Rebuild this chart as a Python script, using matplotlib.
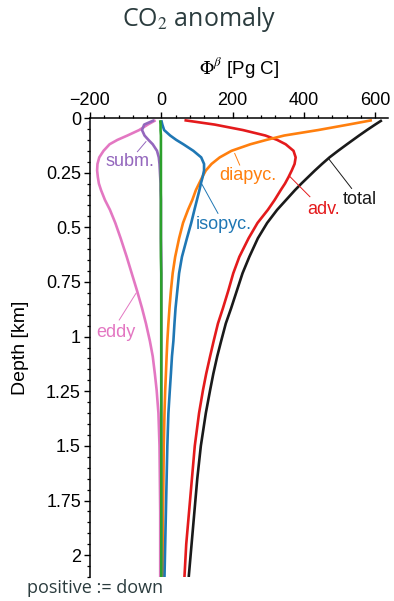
"""CO2 anomaly: vertical profiles of the cumulative carbon flux components."""

import matplotlib

matplotlib.use("Agg")
import matplotlib.pyplot as plt
from matplotlib.ticker import FuncFormatter, MultipleLocator

# depth grid [km], shared by all series
depth_km = [0.01, 0.03, 0.055, 0.08, 0.1, 0.12, 0.15, 0.18, 0.21, 0.24, 0.27, 0.3,
            0.33, 0.375, 0.42, 0.48, 0.55, 0.635, 0.71, 0.79, 0.87, 0.94, 1.02,
            1.09, 1.17, 1.245, 1.35, 1.5, 1.65, 1.8, 1.95, 2.1]

# Phi^beta [Pg C]
total = [619, 600, 577, 555, 538, 521, 496, 472, 451, 431, 412, 393,
         375, 350, 325, 297, 271, 247, 228, 212, 196, 181, 168,
         157, 146, 137, 125, 111, 101, 93, 85, 77]
adv = [65, 150, 229, 292, 325, 349, 371, 377, 374, 366, 357, 347,
       335, 318, 299, 270, 245, 219, 202, 188, 173, 159, 147,
       137, 126, 117, 106, 94, 86, 78, 70, 65]
diapyc = [591, 525, 440, 345, 295, 250, 197, 164, 141, 125, 115, 106,
          97, 87, 75, 61, 50, 39, 32, 27, 23, 20, 17,
          15, 13, 11, 9, 7, 6, 5, 5, 4]
isopyc = [0, 3, 8, 25, 42, 62, 90, 112, 120, 120, 116, 111,
          107, 100, 93, 84, 72, 58, 50, 45, 40, 37, 34,
          30, 27, 24, 20, 17, 15, 13, 11, 9]
eddy = [-16, -38, -62, -95, -123, -145, -162, -174, -179, -180, -178, -175,
        -169, -158, -144, -129, -114, -97, -83, -68, -54, -43, -32,
        -24, -18, -13, -8, -5, -4, -3, -3, -3]
subm = [-20, -48, -54, -47, -36, -24, -12, -7, -5, -4, -3, -2,
        -2, -1, -1, -1, -1, 0, 0, 0, 0, 0, 0,
        0, 0, 0, 0, 0, 0, 0, 0, 0]
other = [-3, -2, -2, -1, -1, -1, -1, -1, -1, -1, -1, -1,
         -1, -1, -1, -1, -1, -1, 0, 0, 0, 0, 0,
         0, 0, 0, 0, 0, 0, 0, 0, 0]

# label text, text anchor (x, depth), leader start, leader end
labels = [
    ("total", (558, 0.371), (469, 0.185), (534, 0.322)),
    ("adv.", (454, 0.417), (361, 0.268), (417, 0.36)),
    ("diapyc.", (243, 0.261), (206, 0.162), (220, 0.215)),
    ("isopyc.", (175, 0.486), (113, 0.30), (159, 0.436)),
    ("subm.", (-88, 0.20), (-43, 0.108), (-67, 0.154)),
    ("eddy", (-128, 0.982), (-71, 0.802), (-118, 0.924)),
]

COLORS = {
    "total": "#1a1a1a",
    "adv.": "#e41a1c",
    "diapyc.": "#ff7f0e",
    "isopyc.": "#1f77b4",
    "subm.": "#9467bd",
    "eddy": "#e377c2",
    "other": "#2ca02c",
}

TEXT_DARK = "#2b3c3e"

plt.rcParams["font.family"] = ["Liberation Sans", "DejaVu Sans"]
plt.rcParams["mathtext.fontset"] = "stix"

fig = plt.figure(figsize=(3.94, 6.01), dpi=100)
ax = fig.add_axes([0.2284, 0.0399, 0.7563, 0.7637])

series = [
    (total, "total"),
    (adv, "adv."),
    (diapyc, "diapyc."),
    (isopyc, "isopyc."),
    (eddy, "eddy"),
    (subm, "subm."),
    (other, "other"),
]
for values, name in series:
    ax.plot(values, depth_km, color=COLORS[name], lw=1.9, solid_capstyle="butt")

for text, (tx, ty), (x0, y0), (x1, y1) in labels:
    ax.plot([x0, x1], [y0, y1], color=COLORS[text], lw=0.7)
    ax.text(tx, ty, text, color=COLORS[text], fontsize=13, ha="center", va="center")

ax.set_xlim(-200, 636)
ax.set_ylim(2.1, 0)

ax.xaxis.tick_top()
ax.xaxis.set_label_position("top")
ax.spines["bottom"].set_visible(False)
ax.spines["right"].set_visible(False)
for side in ("top", "left"):
    ax.spines[side].set_linewidth(1.1)

ax.xaxis.set_major_locator(MultipleLocator(200))
ax.xaxis.set_minor_locator(MultipleLocator(40))
ax.yaxis.set_major_locator(MultipleLocator(0.25))
ax.yaxis.set_minor_locator(MultipleLocator(0.05))
ax.yaxis.set_major_formatter(FuncFormatter(lambda v, _: f"{v:g}"))
ax.tick_params(which="major", direction="out", length=4.5, width=1.0, labelsize=13, pad=2)
ax.tick_params(which="minor", direction="out", length=2.5, width=0.9)

ax.set_xlabel(r"$\Phi^{\beta}$ [Pg C]", fontsize=13.5, labelpad=13)
ax.set_ylabel("Depth [km]", fontsize=14, labelpad=12)

fig.text(0.505, 0.967, r"CO$_2$ anomaly", ha="center", va="center",
         fontsize=18, color=TEXT_DARK, family=["Open Sans", "DejaVu Sans"])
fig.text(0.068, 0.007, "positive := down", ha="left", va="bottom",
         fontsize=13, color=TEXT_DARK, family=["Open Sans", "DejaVu Sans"])

fig.savefig("out.png", dpi=100)
